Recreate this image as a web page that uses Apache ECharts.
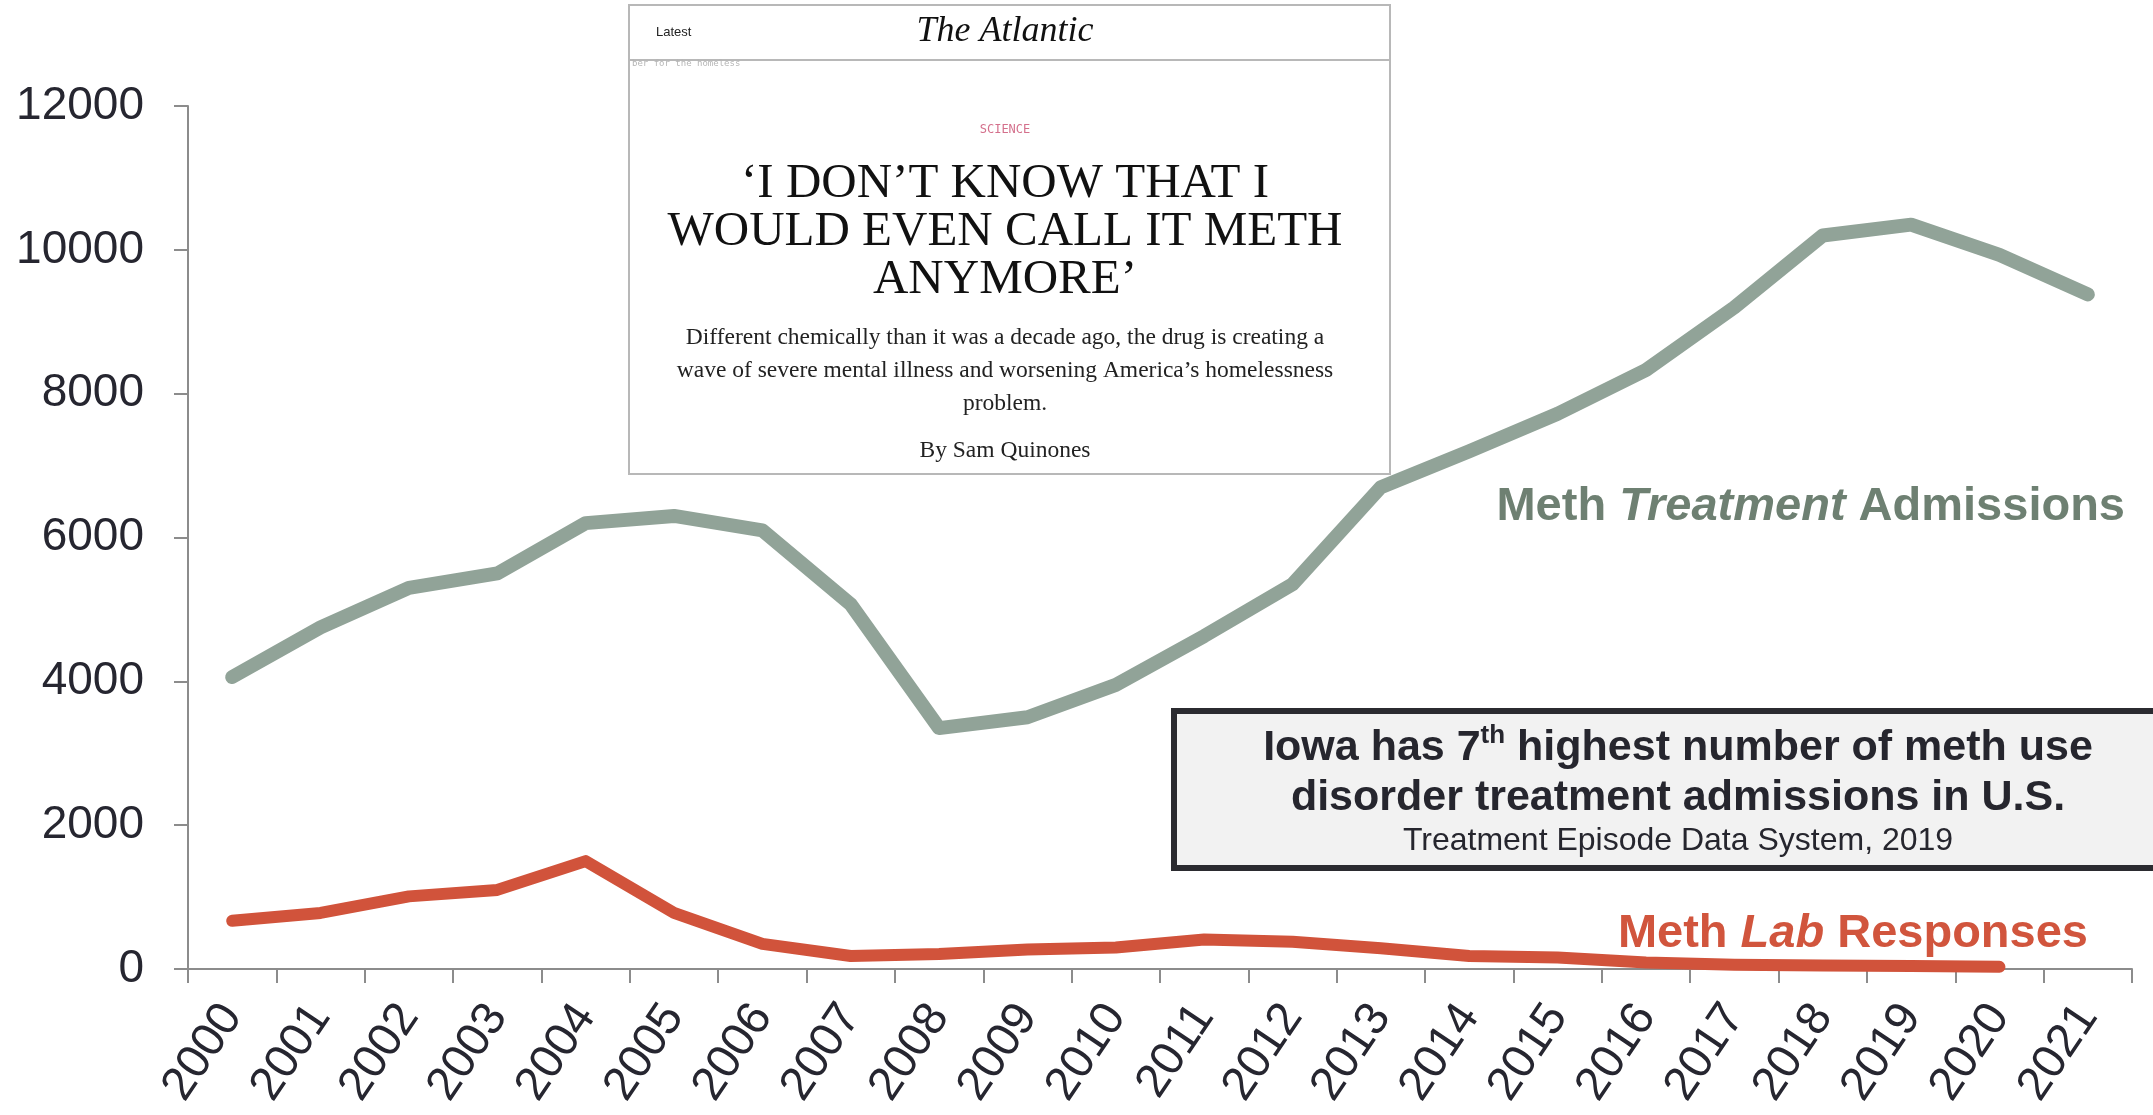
<!DOCTYPE html>
<html>
<head>
<meta charset="utf-8">
<script src="https://cdn.jsdelivr.net/npm/echarts@6/dist/echarts.min.js"></script>
<style>
html,body{margin:0;padding:0;background:#fff;}
#chart{width:2153px;height:1115px;}
</style>
</head>
<body>
<div id="chart"></div>
<script>
var years = ['2000','2001','2002','2003','2004','2005','2006','2007','2008','2009','2010','2011','2012','2013','2014','2015','2016','2017','2018','2019','2020','2021'];
var treatmentAdmissions = [4060,4750,5300,5500,6200,6300,6100,5070,3350,3500,3950,4630,5350,6700,7200,7720,8330,9200,10200,10350,9930,9380];
var labResponses = [670,780,1010,1100,1500,780,350,180,210,270,300,410,380,290,180,160,90,60,50,40,30,null];
var yTicks = [0,2000,4000,6000,8000,10000,12000];

var chart = echarts.init(document.getElementById('chart'), null, {renderer:'canvas'});
var axisColor = '#8c8c8c';
var labelColor = '#262630';
var sans = "'Liberation Sans', Arial, sans-serif";
var serif = "'Liberation Serif', 'Times New Roman', serif";

var option = {
  backgroundColor:'#ffffff',
  animation:false,
  grid:{left:188,right:21,top:106,bottom:146,containLabel:false},
  xAxis:{
    type:'category',
    data:years,
    boundaryGap:true,
    axisLine:{lineStyle:{color:axisColor,width:2}},
    axisTick:{show:true,length:14,lineStyle:{color:axisColor,width:2},alignWithLabel:false},
    axisLabel:{rotate:56,fontSize:47,fontFamily:sans,color:labelColor,margin:40,interval:0}
  },
  yAxis:{
    type:'value',
    min:yTicks[0],
    max:yTicks[yTicks.length-1],
    interval:2000,
    axisLine:{show:true,lineStyle:{color:axisColor,width:2}},
    axisTick:{show:true,length:14,lineStyle:{color:axisColor,width:2}},
    splitLine:{show:false},
    axisLabel:{fontSize:46,fontFamily:sans,color:labelColor,margin:44,formatter:function(v){return String(v);}}
  },
  series:[
    {name:'Meth Treatment Admissions',type:'line',data:treatmentAdmissions,symbol:'none',smooth:false,
     lineStyle:{color:'#91a398',width:14,cap:'round',join:'round'},z:2},
    {name:'Meth Lab Responses',type:'line',data:labResponses,symbol:'none',smooth:false,
     lineStyle:{color:'#d1533b',width:12,cap:'round',join:'round'},z:3}
  ],
  graphic:[
    {type:'rect',z:100,shape:{x:629,y:5,width:761,height:469},style:{fill:'#ffffff',stroke:'#b8b8b8',lineWidth:2}},
    {type:'line',z:101,shape:{x1:630,y1:60,x2:1389,y2:60},style:{stroke:'#b8b8b8',lineWidth:2}},
    {type:'text',z:102,x:656,y:32,style:{text:'Latest',font:"13px "+sans,fill:'#222',align:'left',verticalAlign:'middle'}},
    {type:'text',z:102,x:1005,y:32,style:{text:'The Atlantic',font:"italic 36px "+serif,fill:'#111',align:'center',verticalAlign:'middle'}},
    {type:'text',z:102,x:632,y:64,style:{text:'ber for the homeless',font:"9px 'DejaVu Sans Mono', monospace",fill:'#b5b5b5',align:'left',verticalAlign:'middle'}},
    {type:'text',z:102,x:1005,y:130,style:{text:'SCIENCE',font:"12px 'DejaVu Sans Mono', monospace",fill:'#d4708c',align:'center',verticalAlign:'middle'}},
    {type:'text',z:102,x:1005,y:184,style:{text:'\u2018I DON\u2019T KNOW THAT I',font:"49px "+serif,fill:'#111',align:'center',verticalAlign:'middle'}},
    {type:'text',z:102,x:1005,y:232,style:{text:'WOULD EVEN CALL IT METH',font:"49px "+serif,fill:'#111',align:'center',verticalAlign:'middle'}},
    {type:'text',z:102,x:1005,y:280,style:{text:'ANYMORE\u2019',font:"49px "+serif,fill:'#111',align:'center',verticalAlign:'middle'}},
    {type:'text',z:102,x:1005,y:338,style:{text:'Different chemically than it was a decade ago, the drug is creating a',font:"23.5px "+serif,fill:'#222',align:'center',verticalAlign:'middle'}},
    {type:'text',z:102,x:1005,y:371,style:{text:'wave of severe mental illness and worsening America\u2019s homelessness',font:"23.5px "+serif,fill:'#222',align:'center',verticalAlign:'middle'}},
    {type:'text',z:102,x:1005,y:404,style:{text:'problem.',font:"23.5px "+serif,fill:'#222',align:'center',verticalAlign:'middle'}},
    {type:'text',z:102,x:1005,y:451,style:{text:'By Sam Quinones',font:"23.5px "+serif,fill:'#222',align:'center',verticalAlign:'middle'}},

    {type:'rect',z:100,shape:{x:1174,y:711,width:990,height:157},style:{fill:'#f2f2f2',stroke:'#2b2b30',lineWidth:6}},
    {type:'text',z:102,x:1678,y:748,style:{text:'{b|Iowa has 7}{s|th}{b| highest number of meth use}',align:'center',verticalAlign:'middle',
      rich:{b:{font:"bold 43px "+sans,fill:'#26262e',lineHeight:50,verticalAlign:'middle'},s:{font:"bold 26px "+sans,fill:'#26262e',lineHeight:50,verticalAlign:'top',padding:[0,0,16,0]}}}},
    {type:'text',z:102,x:1678,y:798,style:{text:'disorder treatment admissions in U.S.',font:"bold 43px "+sans,fill:'#26262e',align:'center',verticalAlign:'middle'}},
    {type:'text',z:102,x:1678,y:841,style:{text:'Treatment Episode Data System, 2019',font:"32px "+sans,fill:'#26262e',align:'center',verticalAlign:'middle'}},

    {type:'text',z:102,x:2125,y:507,style:{text:'{a|Meth }{i|Treatment}{a| Admissions}',align:'right',verticalAlign:'middle',
      rich:{a:{font:"bold 47px "+sans,fill:'#6e8072'},i:{font:"italic bold 47px "+sans,fill:'#6e8072'}}}},
    {type:'text',z:102,x:2088,y:934,style:{text:'{a|Meth }{i|Lab}{a| Responses}',align:'right',verticalAlign:'middle',
      rich:{a:{font:"bold 47px "+sans,fill:'#d1553d'},i:{font:"italic bold 47px "+sans,fill:'#d1553d'}}}}
  ]
};
chart.setOption(option);
</script>
</body>
</html>
